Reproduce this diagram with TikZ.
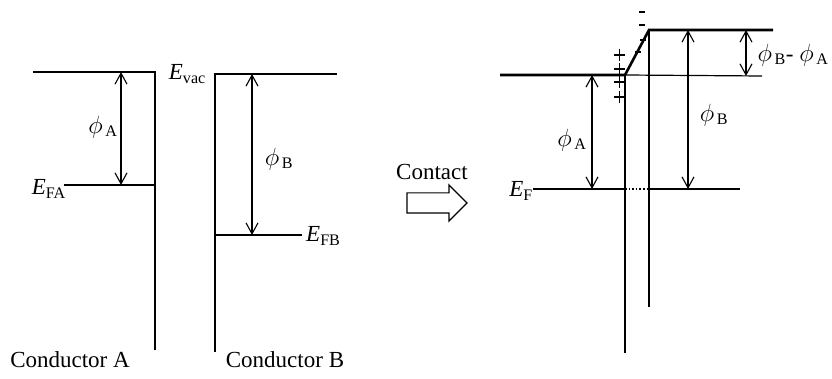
\documentclass[tikz,border=0pt]{standalone}
\usepackage{fontspec}
\setmainfont{Liberation Serif}
\usepackage{tikz}
\usetikzlibrary{arrows.meta,shapes.arrows}
\newcommand{\Elev}[1]{\textit{E}\textsubscript{#1}}
\newcommand{\phisym}{{\fontsize{27}{27}\selectfont$\phi$}}
\newcommand{\wf}[1]{\phisym\textsubscript{\,#1}}

\begin{document}
\begin{tikzpicture}[
  x=1pt,
  y=-1pt,
  font=\fontsize{23}{27}\selectfont,
  level/.style={line width=2.6pt},
  thinlevel/.style={line width=1.2pt},
  fermigap/.style={line width=1.6pt, dotted},
  workfn/.style={
    {Straight Barb[length=11pt,width=12pt]}-{Straight Barb[length=11pt,width=12pt]},
    line width=1.1pt
  },
  charge/.style={line width=1.1pt},
  lbl/.style={inner sep=0pt},
  contactarrow/.style={
    single arrow,
    draw,
    line width=1.2pt,
    minimum height=60pt,
    inner xsep=0pt,
    inner ysep=9.5pt,
    single arrow head extend=8pt
  }
]
\useasboundingbox (0,0) rectangle (832,379);

\coordinate (vacAl) at (33,72);
\coordinate (vacAc) at (155,72);
\coordinate (botA) at (155,350);
\coordinate (efAl) at (64,185);
\coordinate (efAc) at (155,185);
\coordinate (pAtop) at (121,72);
\coordinate (pAbot) at (121,185);

\coordinate (vacBc) at (215,74);
\coordinate (vacBr) at (337,74);
\coordinate (botB) at (215,352);
\coordinate (efBc) at (215,235);
\coordinate (efBr) at (302,235);
\coordinate (pBtop) at (252,74);
\coordinate (pBbot) at (252,235);

\coordinate (vacl) at (500,75);
\coordinate (kinkA) at (625,75);
\coordinate (vacthin) at (762,76);
\coordinate (kinkB) at (649,30);
\coordinate (vactop) at (773,30);
\coordinate (rbotA) at (625,353);
\coordinate (rbotB) at (649,307);
\coordinate (efl) at (533,189);
\coordinate (efA) at (625,189);
\coordinate (efB) at (649,189);
\coordinate (efr) at (740,189);
\coordinate (qAtop) at (592,75);
\coordinate (qAbot) at (592,189);
\coordinate (qBtop) at (688,30);
\coordinate (qBbot) at (688,189);
\coordinate (dtop) at (746,30);
\coordinate (dbot) at (746,76);

\draw[level] (vacAl) -- (vacAc) -- (botA);
\draw[level] (efAl) -- (efAc);
\draw[workfn] (pAtop) -- (pAbot);
\draw[level] (vacBr) -- (vacBc) -- (botB);
\draw[level] (efBc) -- (efBr);
\draw[workfn] (pBtop) -- (pBbot);

\draw[level] (vacl) -- (kinkA) -- (kinkB) -- (vactop);
\draw[thinlevel] (kinkA) -- (vacthin);
\draw[level] (kinkA) -- (rbotA);
\draw[level] (kinkB) -- (rbotB);
\draw[level] (efl) -- (efA);
\draw[fermigap] (efA) -- (efB);
\draw[level] (efB) -- (efr);
\draw[workfn] (qAtop) -- (qAbot);
\draw[workfn] (qBtop) -- (qBbot);
\draw[workfn] (dtop) -- (dbot);

\foreach \y in {55,69,82,97}
  \draw[charge] (614,\y) -- (625,\y) (619.5,\y-6) -- (619.5,\y+6);
\foreach \x/\y in {642/12,642/25,643/40,638/52}
  \draw[charge] (\x-3,\y) -- (\x+3,\y);

\node[lbl, anchor=base east] (evac) at (206,80) {\Elev{vac}};
\node[lbl, anchor=base east] (efalbl) at (66,195) {\Elev{FA}};
\node[lbl, anchor=base west] (efblbl) at (306,242) {\Elev{FB}};
\node[lbl, anchor=base east] (eflbl) at (533,197) {\Elev{F}};
\node[lbl] (phiAlbl) at (103,127) {\wf{A}};
\node[lbl] (phiBlbl) at (279,159) {\wf{B}};
\node[lbl] (phiArlbl) at (572,140) {\wf{A}};
\node[lbl] (phiBrlbl) at (714,115) {\wf{B}};
\node[lbl] (difflbl) at (793,55) {\wf{B}- \phisym\textsubscript{\,A}};

\node[lbl] (contact) at (432,172) {Contact};
\node[contactarrow] (contactarr) at (432,203) {};
\node[lbl] (condA) at (70,360) {Conductor A};
\node[lbl] (condB) at (285,360) {Conductor B};

\end{tikzpicture}
\end{document}
